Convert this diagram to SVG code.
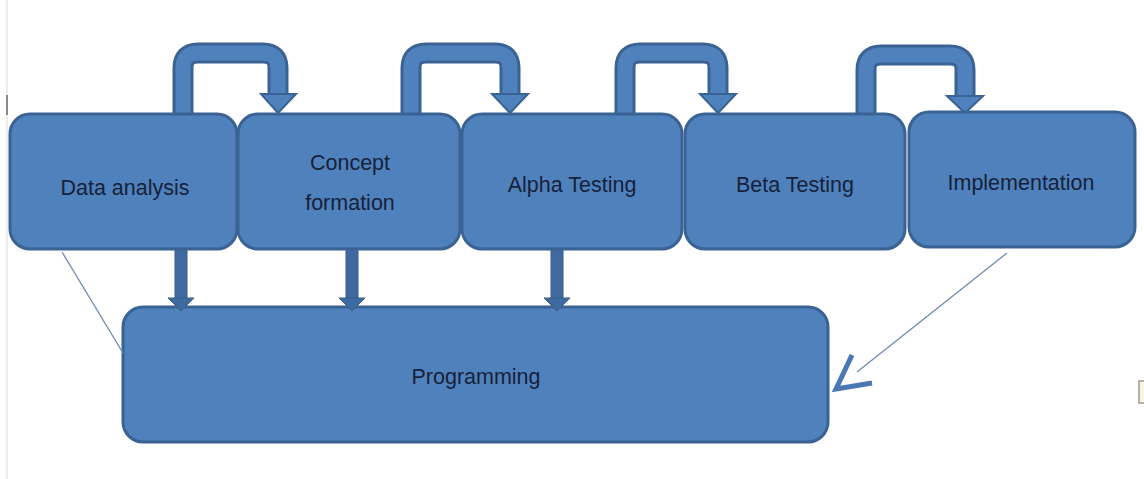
<svg xmlns="http://www.w3.org/2000/svg" width="1144" height="479" viewBox="0 0 1144 479">
<style>
.box{fill:#4f81bd;stroke:#3a6394;stroke-width:3}
.lbl{font-family:"Liberation Sans",Arial,sans-serif;font-size:21.5px;fill:#17223a;text-anchor:middle}
.loop{fill:none;stroke:#3a6394;stroke-width:21;stroke-linejoin:round}
.loopin{fill:none;stroke:#4f81bd;stroke-width:15;stroke-linejoin:round}
.head{fill:#4f81bd;stroke:#3a6394;stroke-width:2}
.down{fill:#3e6aa0;stroke:#385d8a;stroke-width:1}
.thin{stroke:#6d8bb3;stroke-width:1.3;fill:none}
</style>
<rect x="0" y="0" width="1144" height="479" fill="#ffffff"/>
<line x1="7" y1="0" x2="7" y2="479" stroke="#e6e6e6" stroke-width="1.5"/>
<line x1="7" y1="95" x2="7" y2="115" stroke="#8a8a8a" stroke-width="2"/>
<g id="programming">
  <rect class="box" x="123" y="307" width="705" height="135" rx="20"/>
  <text class="lbl" x="476" y="384">Programming</text>
</g>
<g id="connectors">
  <path class="loop" d="M183,118 V68 Q183,53 198,53 H263 Q278,53 278,68 V95"/>
  <path class="loopin" d="M183,118 V68 Q183,53 198,53 H263 Q278,53 278,68 V96"/>
  <polygon class="head" points="261,94 296,94 278,113"/>
  <path class="loop" d="M411,118 V68 Q411,53 426,53 H495 Q510,53 510,68 V95"/>
  <path class="loopin" d="M411,118 V68 Q411,53 426,53 H495 Q510,53 510,68 V96"/>
  <polygon class="head" points="492,94 528,94 510,113"/>
  <path class="loop" d="M625,118 V68 Q625,53 640,53 H703 Q718,53 718,68 V95"/>
  <path class="loopin" d="M625,118 V68 Q625,53 640,53 H703 Q718,53 718,68 V96"/>
  <polygon class="head" points="700,94 736,94 718,113"/>
  <path class="loop" d="M866,118 V70 Q866,55 881,55 H950 Q965,55 965,70 V97"/>
  <path class="loopin" d="M866,118 V70 Q866,55 881,55 H950 Q965,55 965,70 V98"/>
  <polygon class="head" points="947,96 983,96 965,113"/>
  <rect class="down" x="175" y="248" width="12" height="52"/>
  <polygon class="down" points="168,298 194,298 181,311"/>
  <rect class="down" x="346" y="248" width="12" height="52"/>
  <polygon class="down" points="339,298 365,298 352,311"/>
  <rect class="down" x="551" y="248" width="12" height="52"/>
  <polygon class="down" points="544,298 570,298 557,311"/>
  <line class="thin" x1="62" y1="252" x2="123" y2="353"/>
  <line class="thin" x1="1007" y1="253" x2="857" y2="372"/>
  <polyline points="852,355 836,389 872,383" fill="none" stroke="#4a78b5" stroke-width="5"/>
</g>
<g id="data-analysis">
  <rect class="box" x="10" y="114" width="227" height="135" rx="20"/>
  <text class="lbl" x="125" y="195">Data analysis</text>
</g>
<g id="concept-formation">
  <rect class="box" x="238" y="114" width="222" height="135" rx="20"/>
  <text class="lbl" x="350" y="170">Concept</text>
  <text class="lbl" x="350" y="210">formation</text>
</g>
<g id="alpha-testing">
  <rect class="box" x="462" y="114" width="220" height="135" rx="20"/>
  <text class="lbl" x="572" y="192">Alpha Testing</text>
</g>
<g id="beta-testing">
  <rect class="box" x="685" y="114" width="220" height="135" rx="20"/>
  <text class="lbl" x="795" y="192">Beta Testing</text>
</g>
<g id="implementation">
  <rect class="box" x="909" y="112" width="226" height="135" rx="20"/>
  <text class="lbl" x="1021" y="190">Implementation</text>
</g>
<rect x="1139" y="381" width="8" height="22" fill="#fbf6e3" stroke="#9a9a8a" stroke-width="1.5"/>
</svg>
